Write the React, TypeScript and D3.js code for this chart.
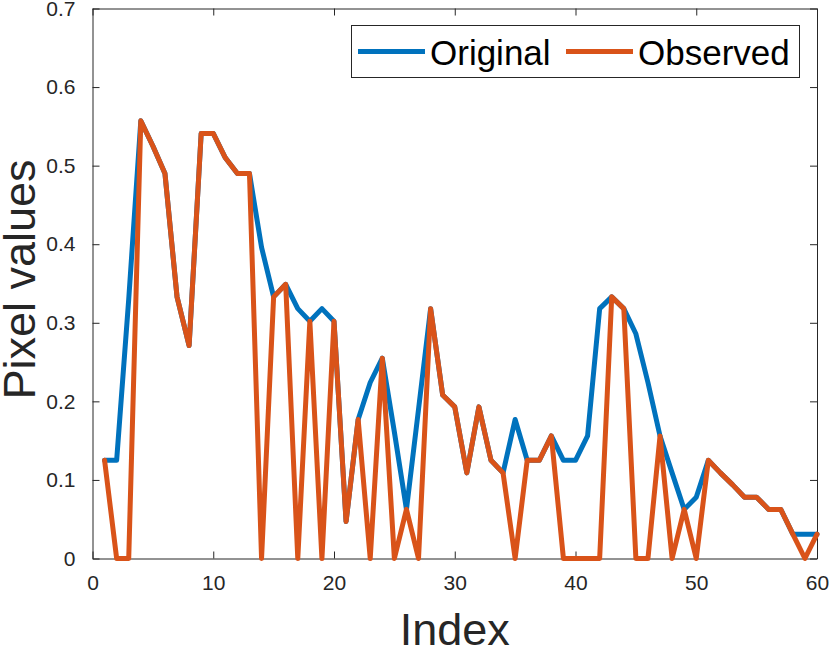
import { useRef, useEffect } from "react";
import * as d3 from "d3";

const indices = d3.range(1, 61);

const originalValues = [
  0.125, 0.125, 0.33, 0.557, 0.525, 0.49, 0.333, 0.271, 0.541, 0.541,
  0.51, 0.49, 0.49, 0.396, 0.333, 0.349, 0.318, 0.302, 0.318, 0.302,
  0.047, 0.177, 0.224, 0.255, 0.161, 0.0625, 0.19, 0.318, 0.208, 0.193,
  0.109, 0.193, 0.125, 0.109, 0.177, 0.125, 0.125, 0.156, 0.125, 0.125,
  0.156, 0.318, 0.333, 0.318, 0.286, 0.224, 0.156, 0.109, 0.0625, 0.078,
  0.125, 0.109, 0.094, 0.078, 0.078, 0.0625, 0.0625, 0.031, 0.031, 0.031,
];

const observedValues = [
  0.125, 0, 0, 0.557, 0.525, 0.49, 0.333, 0.271, 0.541, 0.541,
  0.51, 0.49, 0.49, 0, 0.333, 0.349, 0, 0.302, 0, 0.302,
  0.047, 0.177, 0, 0.255, 0, 0.0625, 0, 0.318, 0.208, 0.193,
  0.109, 0.193, 0.125, 0.109, 0, 0.125, 0.125, 0.156, 0, 0,
  0, 0, 0.333, 0.318, 0, 0, 0.156, 0, 0.0625, 0,
  0.125, 0.109, 0.094, 0.078, 0.078, 0.0625, 0.0625, 0.031, 0, 0.031,
];

const xTicks = [0, 10, 20, 30, 40, 50, 60];
const yTicks = [0, 0.1, 0.2, 0.3, 0.4, 0.5, 0.6, 0.7];

const seriesNames = ["Original", "Observed"];
const seriesColors = ["#0072BD", "#D95319"];

const W = 830;
const H = 648;
const FONT = "'Liberation Sans', Arial, Helvetica, sans-serif";
const AXIS_COLOR = "#262626";

export default function App() {
  const svgRef = useRef<SVGSVGElement>(null);

  useEffect(() => {
    if (!svgRef.current) return;
    const svg = d3.select(svgRef.current);
    svg.selectAll("*").remove();

    const left = 92.5;
    const right = 817;
    const top = 8.5;
    const bottom = 558.5;

    const x = d3.scaleLinear().domain([0, 60]).range([left, right]);
    const y = d3.scaleLinear().domain([0, 0.7]).range([bottom, top]);
    const fmt = (d: number) => String(+d.toFixed(1));

    // axes, ticks pointing inward on all four sides
    const styleAxis = (g: d3.Selection<SVGGElement, unknown, null, undefined>) => {
      g.select(".domain").attr("stroke", AXIS_COLOR).attr("stroke-width", 1).attr("fill", "none");
      g.selectAll(".tick line").attr("stroke", AXIS_COLOR).attr("stroke-width", 1);
      g.selectAll(".tick text")
        .attr("fill", AXIS_COLOR)
        .style("font-family", FONT)
        .style("font-size", "21px");
    };

    svg
      .append("g")
      .attr("transform", `translate(0,${bottom})`)
      .call(d3.axisBottom(x).tickValues(xTicks).tickFormat((d) => fmt(+d)).tickSize(-7).tickSizeOuter(0).tickPadding(17))
      .call(styleAxis);

    svg
      .append("g")
      .attr("transform", `translate(0,${top})`)
      .call(d3.axisTop(x).tickValues(xTicks).tickFormat(() => "").tickSize(-7).tickSizeOuter(0))
      .call(styleAxis);

    svg
      .append("g")
      .attr("transform", `translate(${left},0)`)
      .call(d3.axisLeft(y).tickValues(yTicks).tickFormat((d) => fmt(+d)).tickSize(-7).tickSizeOuter(0).tickPadding(17))
      .call(styleAxis);

    svg
      .append("g")
      .attr("transform", `translate(${right},0)`)
      .call(d3.axisRight(y).tickValues(yTicks).tickFormat(() => "").tickSize(-7).tickSizeOuter(0))
      .call(styleAxis);

    // axis labels
    svg
      .append("text")
      .attr("x", (left + right) / 2)
      .attr("y", 645)
      .attr("text-anchor", "middle")
      .attr("fill", AXIS_COLOR)
      .style("font-family", FONT)
      .style("font-size", "45px")
      .text("Index");

    svg
      .append("text")
      .attr("transform", `translate(35,${(top + bottom) / 2 - 4}) rotate(-90)`)
      .attr("text-anchor", "middle")
      .attr("fill", AXIS_COLOR)
      .style("font-family", FONT)
      .style("font-size", "45px")
      .text("Pixel values");

    // lines
    const line = d3
      .line<number>()
      .x((_, i) => x(indices[i]))
      .y((d) => y(d));

    [originalValues, observedValues].forEach((vals, k) => {
      svg
        .append("path")
        .datum(vals)
        .attr("fill", "none")
        .attr("stroke", seriesColors[k])
        .attr("stroke-width", 5)
        .attr("stroke-linejoin", "round")
        .attr("stroke-linecap", "round")
        .attr("d", line);
    });

    // legend
    const legend = svg.append("g");
    legend
      .append("rect")
      .attr("x", 351.5)
      .attr("y", 25.5)
      .attr("width", 448)
      .attr("height", 52)
      .attr("fill", "white")
      .attr("stroke", AXIS_COLOR)
      .attr("stroke-width", 1);

    const entryX = [358, 566];
    seriesNames.forEach((name, k) => {
      legend
        .append("line")
        .attr("x1", entryX[k])
        .attr("x2", entryX[k] + 67)
        .attr("y1", 51.5)
        .attr("y2", 51.5)
        .attr("stroke", seriesColors[k])
        .attr("stroke-width", 5);
      legend
        .append("text")
        .attr("x", entryX[k] + 72)
        .attr("y", 65)
        .attr("fill", "#000")
        .style("font-family", FONT)
        .style("font-size", "35px")
        .text(name);
    });
  }, []);

  return (
    <svg
      ref={svgRef}
      width={W}
      height={H}
      style={{ position: "absolute", left: 0, top: 0, background: "white", display: "block" }}
    />
  );
}
